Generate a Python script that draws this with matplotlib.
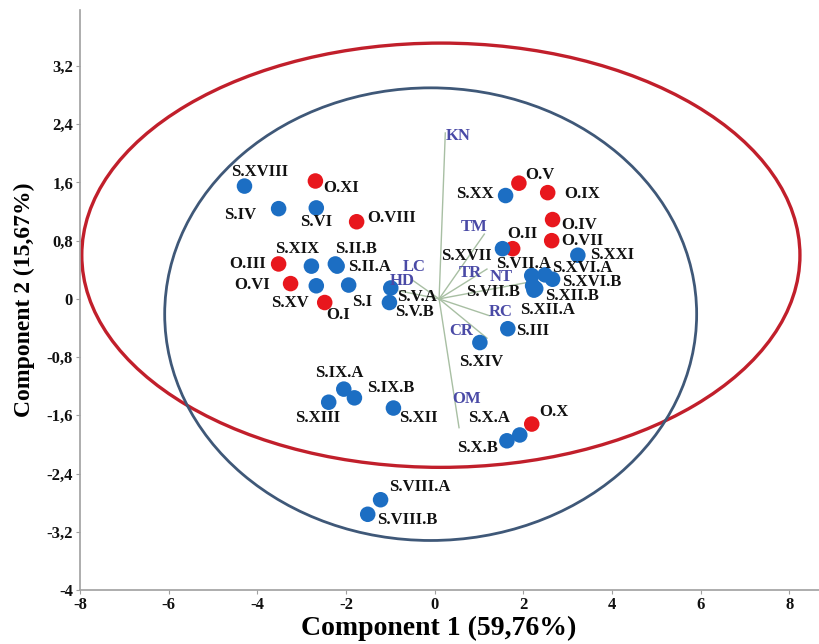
import matplotlib
matplotlib.use("Agg")
import matplotlib.pyplot as plt
from matplotlib.patches import Ellipse
from matplotlib.ticker import FixedLocator, FuncFormatter

# ---- sample scores (PC1, PC2) ----
sample_names = [
    "S.XVIII", "O.XI", "S.IV", "S.VI", "O.VIII", "O.III", "S.XIX", "S.II.B", "S.II.A",
    "O.VI", "S.XV", "S.I", "O.I", "S.V.A", "S.V.B",
    "O.V", "S.XX", "O.IX", "O.IV", "O.VII", "O.II", "S.XVII", "S.XXI",
    "S.VII.A", "S.XVI.A", "S.XVI.B", "S.VII.B", "S.XII.B", "S.XII.A",
    "S.III", "S.XIV", "S.IX.A", "S.IX.B", "S.XIII", "S.XII",
    "S.X.A", "S.X.B", "O.X", "S.VIII.A", "S.VIII.B",
]
pc1 = [
    -4.29, -2.69, -3.52, -2.67, -1.76, -3.52, -2.78, -2.24, -2.20,
    -3.25, -2.67, -1.94, -2.48, -0.99, -1.02,
    1.90, 1.60, 2.55, 2.66, 2.64, 1.76, 1.53, 3.23,
    2.19, 2.49, 2.66, 2.21, 2.24, 2.28,
    1.65, 1.02, -2.05, -1.81, -2.39, -0.93,
    1.92, 1.63, 2.19, -1.22, -1.51,
]
pc2 = [
    1.55, 1.62, 1.24, 1.25, 1.06, 0.48, 0.45, 0.48, 0.45,
    0.21, 0.18, 0.19, -0.05, 0.15, -0.05,
    1.59, 1.42, 1.46, 1.09, 0.80, 0.69, 0.69, 0.60,
    0.32, 0.33, 0.27, 0.18, 0.12, 0.14,
    -0.41, -0.60, -1.24, -1.36, -1.42, -1.50,
    -1.87, -1.95, -1.72, -2.76, -2.96,
]

# ---- variable loadings (scaled to the score space) ----
var_names = ["KN", "TM", "TR", "NT", "RC", "CR", "OM", "LC", "HD"]
load_x = [0.14, 1.02, 1.08, 2.03, 1.13, 1.08, 0.45, -0.63, -0.90]
load_y = [2.28, 0.89, 0.41, 0.23, -0.23, -0.54, -1.77, 0.27, 0.11]

x_ticks = [-8, -6, -4, -2, 0, 2, 4, 6, 8]
y_ticks = [-4, -3.2, -2.4, -1.6, -0.8, 0, 0.8, 1.6, 2.4, 3.2]

# label placement (pixel offsets from each marker)
sample_label_offsets = {
    "S.XVIII": (15, 14), "O.XI": (26, -7), "S.IV": (-38, -6), "S.VI": (0, -14),
    "O.VIII": (35, 4), "O.III": (-31, 0), "S.XIX": (-14, 17), "S.II.B": (21, 15),
    "S.II.A": (32, -1), "O.VI": (-38, -1), "S.XV": (-26, -17), "S.I": (13, -17),
    "O.I": (13, -12), "S.V.A": (26, -9), "S.V.B": (25, -9),
    "O.V": (21, 8), "S.XX": (-31, 2), "O.IX": (34, -1), "O.IV": (27, -5),
    "O.VII": (31, 0), "O.II": (10, 15), "S.XVII": (-36, -7), "S.XXI": (34, 0),
    "S.VII.A": (-8, 12), "S.XVI.A": (37, 7), "S.XVI.B": (39, -3), "S.VII.B": (-40, -6),
    "S.XII.B": (38, -6), "S.XII.A": (12, -21),
    "S.III": (25, -2), "S.XIV": (1, -19), "S.IX.A": (-5, 16), "S.IX.B": (36, 10),
    "S.XIII": (-11, -16), "S.XII": (25, -10), "S.X.A": (-31, 17), "S.X.B": (-29, -7),
    "O.X": (22, 12), "S.VIII.A": (39, 13), "S.VIII.B": (40, -6),
}
var_label_offsets = {
    "KN": (13, -3), "TM": (-10, 7), "TR": (-17, -4), "NT": (-28, 5), "RC": (12, 4),
    "CR": (-26, 7), "OM": (8, 29), "LC": (3, 12), "HD": (3, 10),
}
vec_origin = (0.1, 0.0)

RED_PT = "#e8171d"
BLUE_PT = "#1c6ec3"
RED_ELL = "#c11f2b"
BLUE_ELL = "#3f5878"
VAR_TXT = "#4a4aa6"
VEC_CLR = "#a8bfa3"

serif = ["Liberation Serif", "DejaVu Serif"]
plt.rcParams["font.family"] = serif

fig = plt.figure(figsize=(8.19, 6.44), dpi=100)
ax = fig.add_axes([0.0977, 0.0839, 0.9023, 0.9006])
ax.set_xlim(-8, 8.67)
ax.set_ylim(-4, 3.97)

# confidence ellipses
ax.add_patch(Ellipse((0.14, 0.60), 16.2, 5.83, fill=False, edgecolor=RED_ELL,
                     linewidth=2.4, zorder=1))
ax.add_patch(Ellipse((-0.09, -0.21), 12.0, 6.22, fill=False, edgecolor=BLUE_ELL,
                     linewidth=2.0, zorder=1))

# loading vectors
for name, lx, ly in zip(var_names, load_x, load_y):
    ex, ey = vec_origin[0] + lx, vec_origin[1] + ly
    ax.plot([vec_origin[0], ex], [vec_origin[1], ey], color=VEC_CLR, lw=1.0, zorder=2)
    ax.annotate(name, (ex, ey), xytext=var_label_offsets[name], textcoords="offset pixels",
                ha="center", va="center", fontsize=12, fontweight="bold",
                color=VAR_TXT, zorder=5)

# sample points
colors = [RED_PT if n.startswith("O.") else BLUE_PT for n in sample_names]
ax.scatter(pc1, pc2, s=125, c=colors, edgecolors="none", zorder=3)
for name, x, y in zip(sample_names, pc1, pc2):
    ax.annotate(name, (x, y), xytext=sample_label_offsets[name], textcoords="offset pixels",
                ha="center", va="center", fontsize=12, fontweight="bold",
                color="#111111", zorder=4)

# axes styling
for side in ("top", "right"):
    ax.spines[side].set_visible(False)
for side in ("left", "bottom"):
    ax.spines[side].set_color("#a0a0a0")
    ax.spines[side].set_linewidth(1.2)
ax.xaxis.set_major_locator(FixedLocator(x_ticks))
ax.yaxis.set_major_locator(FixedLocator(y_ticks))
fmt = FuncFormatter(lambda v, _: ("%g" % round(v, 1)).replace(".", ","))
ax.xaxis.set_major_formatter(fmt)
ax.yaxis.set_major_formatter(fmt)
ax.tick_params(axis="both", length=3, width=0.8, color="#a0a0a0", pad=2,
               labelsize=12, labelcolor="#111111")
for lbl in ax.get_xticklabels() + ax.get_yticklabels():
    lbl.set_fontweight("bold")

ax.set_xlabel("Component 1 (59,76%)", fontsize=20, fontweight="bold")
ax.xaxis.set_label_coords(0.486, -0.045, transform=ax.transAxes)
ax.xaxis.label.set_va("top")
ax.set_ylabel("Component 2 (15,67%)", fontsize=17, fontweight="bold", labelpad=8)

fig.savefig("out.png", dpi=100)
